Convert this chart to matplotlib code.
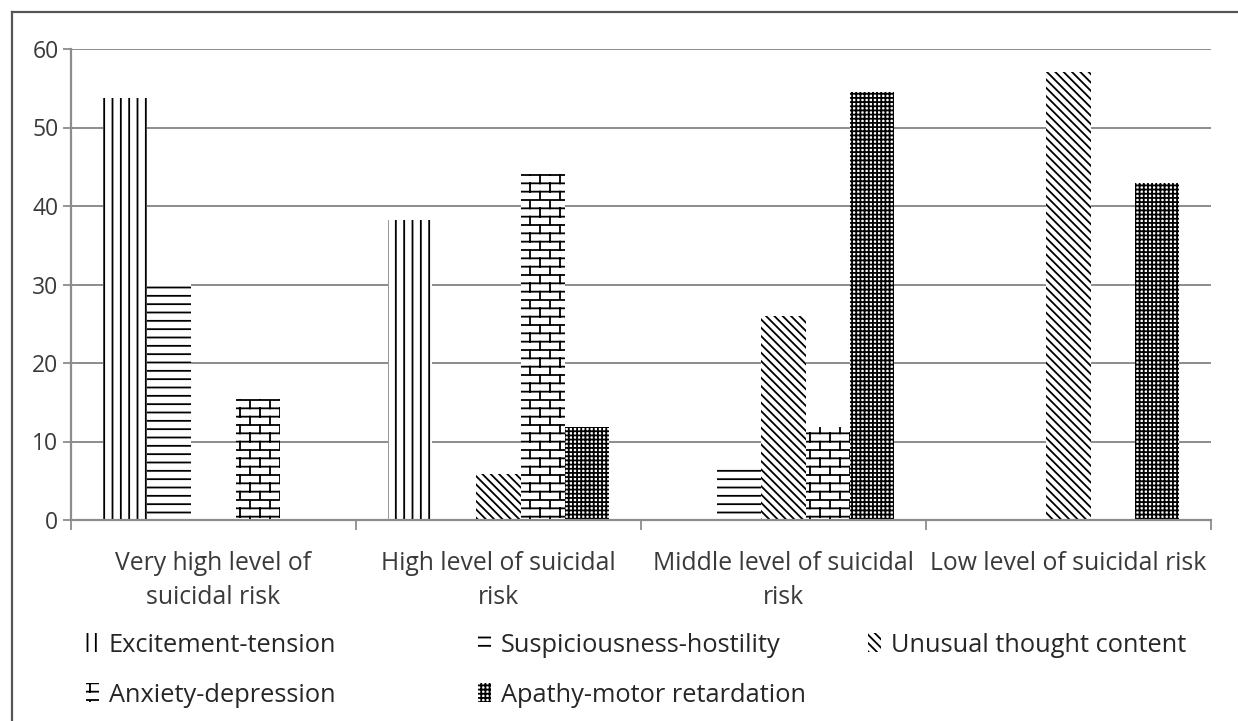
import numpy as np
import matplotlib
matplotlib.use("Agg")
import matplotlib.pyplot as plt
from matplotlib import hatch as mhatch
from matplotlib.path import Path
from matplotlib.patches import Patch
from matplotlib.lines import Line2D

# ---- data -------------------------------------------------------------
categories = [
    "Very high level of\nsuicidal risk",
    "High level of suicidal\nrisk",
    "Middle level of suicidal\nrisk",
    "Low level of suicidal risk",
]
series_names = [
    "Excitement-tension",
    "Suspiciousness-hostility",
    "Unusual thought content",
    "Anxiety-depression",
    "Apathy-motor retardation",
]
excitement = [53.8, 38.2, 0.0, 0.0]
suspiciousness = [30.4, 0.0, 6.6, 0.0]
unusual = [0.0, 5.9, 26.0, 57.1]
anxiety = [15.4, 44.1, 11.9, 0.0]
apathy = [0.0, 11.8, 54.5, 42.9]
y_ticks = [0, 10, 20, 30, 40, 50, 60]


# ---- brick texture hatch (uses the 'o' character) ---------------------
class BrickHatch(mhatch.HatchPatternBase):
    """Running-bond brick wall: horizontal mortar lines plus staggered joints."""

    def __init__(self, hatch, density):
        if "o" in hatch:
            self.rows, self.cols = 12, 5
            self.num_vertices = 2 * (self.rows + 1) + 2 * self.rows * self.cols
        else:
            self.rows = self.cols = 0
            self.num_vertices = 0

    def set_vertices_and_codes(self, vertices, codes):
        k = 0
        for i in range(self.rows + 1):
            y = i / self.rows
            vertices[k] = (0.0, y)
            vertices[k + 1] = (1.0, y)
            codes[k] = Path.MOVETO
            codes[k + 1] = Path.LINETO
            k += 2
        for i in range(self.rows):
            y0, y1 = i / self.rows, (i + 1) / self.rows
            shift = 0.5 * (i % 2)
            for j in range(self.cols):
                xv = (j + shift) / self.cols
                vertices[k] = (xv, y0)
                vertices[k + 1] = (xv, y1)
                codes[k] = Path.MOVETO
                codes[k + 1] = Path.LINETO
                k += 2


mhatch._hatch_types = [t for t in mhatch._hatch_types
                       if t is not mhatch.SmallCircles] + [BrickHatch]

plt.rcParams["hatch.linewidth"] = 1.3
plt.rcParams["font.family"] = ["Open Sans", "DejaVu Sans"]

series = [excitement, suspiciousness, unusual, anxiety, apathy]
hatches = ["||", "--", "\\\\\\\\", "o", "++++"]

W, H = 1238, 721
fig = plt.figure(figsize=(W / 100, H / 100), dpi=100)
ax = fig.add_axes([71 / W, 1 - 520 / H, (1211 - 71) / W, (520 - 49) / H])

x = np.arange(len(categories))
width = 0.155
for i, (vals, hatch) in enumerate(zip(series, hatches)):
    ax.bar(x + (i - 2) * width, vals, width, facecolor="white",
           edgecolor="black", linewidth=0, hatch=hatch, zorder=2)

grid_col = "#8c8c8c"
text_col = "#3a3a3a"
ax.set_xlim(-0.5, len(categories) - 0.5)
ax.set_ylim(0, 60)
ax.set_yticks(y_ticks)
ax.set_axisbelow(True)
ax.yaxis.grid(True, color=grid_col, linewidth=1.4)
for side in ("top", "right"):
    ax.spines[side].set_visible(False)
for side in ("left", "bottom"):
    ax.spines[side].set_color(grid_col)
    ax.spines[side].set_linewidth(1.6)

ax.tick_params(axis="y", direction="out", length=6, width=1.3, color=grid_col,
               labelsize=16.5, labelcolor=text_col, pad=3)
ax.set_xticks(x)
ax.set_xticklabels(categories, fontsize=17.8, color=text_col, linespacing=1.5)
ax.tick_params(axis="x", which="major", length=0, pad=22)
ax.set_xticks(np.arange(-0.5, len(categories)), minor=True)
ax.tick_params(axis="x", which="minor", direction="out", length=7.5,
               width=1.3, color=grid_col)

# ---- legend: three columns, two rows ----------------------------------
legend_pos = [(86, 645), (478, 645), (868, 645), (86, 695), (478, 695)]
for name, hatch, (lx, ly) in zip(series_names, hatches, legend_pos):
    handle = Patch(facecolor="white", edgecolor="black", linewidth=0, hatch=hatch)
    fig.legend([handle], [name], loc="center left",
               bbox_to_anchor=(lx / W, 1 - ly / H), frameon=False,
               handlelength=0.5, handleheight=0.75, handletextpad=0.4,
               borderpad=0, borderaxespad=0, fontsize=18.3,
               labelcolor="#262626")

# ---- outer frame (top and left edges) ---------------------------------
fx, fy = 12 / W, 1 - 12 / H
fig.add_artist(Line2D([fx, fx], [0, fy], color="#555555", linewidth=1.6))
fig.add_artist(Line2D([fx, 1], [fy, fy], color="#555555", linewidth=1.6))

fig.savefig("out.png", dpi=100, facecolor="white")
